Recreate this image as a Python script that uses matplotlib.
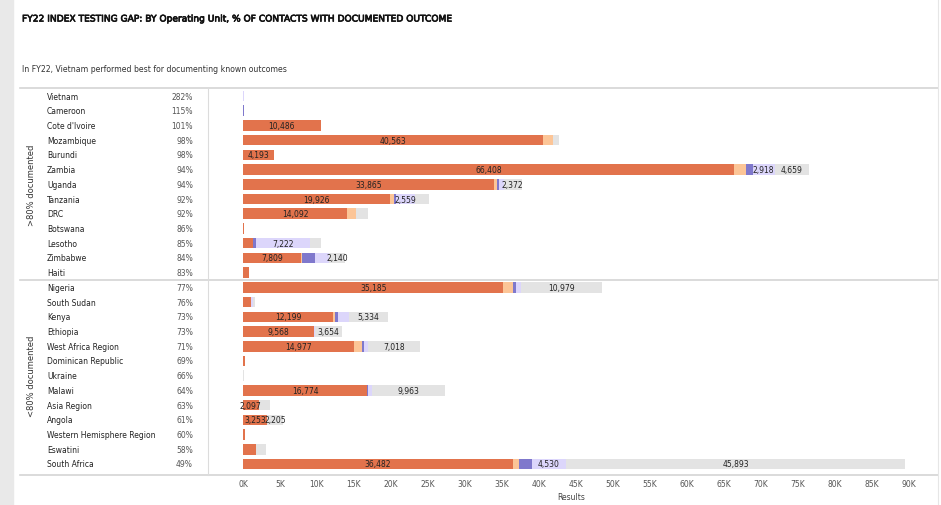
import matplotlib.pyplot as plt
import matplotlib.patheffects as pe
from matplotlib.lines import Line2D
from matplotlib.patches import Rectangle
import numpy as np

plt.rcParams['font.family'] = ['Liberation Sans Narrow', 'DejaVu Sans']

countries = ["Vietnam", "Cameroon", "Cote d'Ivoire", "Mozambique", "Burundi", "Zambia",
             "Uganda", "Tanzania", "DRC", "Botswana", "Lesotho", "Zimbabwe", "Haiti",
             "Nigeria", "South Sudan", "Kenya", "Ethiopia", "West Africa Region",
             "Dominican Republic", "Ukraine", "Malawi", "Asia Region", "Angola",
             "Western Hemisphere Region", "Eswatini", "South Africa"]
pct_labels = ["282%", "115%", "101%", "98%", "98%", "94%", "94%", "92%", "92%", "86%",
              "85%", "84%", "83%", "77%", "76%", "73%", "73%", "71%", "69%", "66%",
              "64%", "63%", "61%", "60%", "58%", "49%"]

# segment values (contacts)
seg_orange = [0, 0, 10486, 40563, 4193, 66408, 33865, 19926, 14092, 150, 1400, 7809, 800,
              35185, 1100, 12199, 9568, 14977, 300, 0, 16774, 2097, 3253, 300, 1800, 36482]
seg_peach = [0, 0, 0, 1350, 0, 1600, 500, 500, 1200, 0, 0, 200, 0,
             1300, 0, 300, 0, 1100, 0, 0, 0, 0, 0, 0, 0, 800]
seg_purple = [0, 150, 0, 0, 0, 900, 200, 300, 0, 0, 400, 1700, 0,
              400, 0, 400, 0, 300, 0, 0, 100, 0, 0, 0, 0, 1800]
seg_lavender = [150, 0, 0, 0, 0, 2918, 700, 2559, 0, 0, 7222, 1900, 0,
                700, 200, 1400, 100, 500, 0, 0, 500, 0, 0, 0, 0, 4530]
seg_gray = [0, 0, 0, 800, 0, 4659, 2372, 1900, 1600, 0, 1500, 2140, 0,
            10979, 300, 5334, 3654, 7018, 0, 150, 9963, 1500, 2205, 0, 1300, 45893]

colors = ['#e2734c', '#fcc597', '#7f78cc', '#dcd6fb', '#e3e3e3']
segments = [seg_orange, seg_peach, seg_purple, seg_lavender, seg_gray]

W, H = 941, 506
fig = plt.figure(figsize=(W / 100, H / 100), dpi=100)
fig.patch.set_facecolor('white')

def fx(px):
    return px / W

def fy(py):
    return 1 - py / H

# gray left margin
fig.add_artist(Rectangle((0, 0), fx(13), 1, transform=fig.transFigure,
                         color='#e9e9e9', zorder=0))

# narrow font has no bold face here, so thicken it with a stroke
title = fig.text(fx(22), fy(20), "FY22 INDEX TESTING GAP: BY Operating Unit, % OF CONTACTS WITH DOCUMENTED OUTCOME",
                 fontsize=9, va='center', ha='left', color='#111111',
                 path_effects=[pe.withStroke(linewidth=0.5, foreground='#111111')])
renderer = fig.canvas.get_renderer()
w = title.get_window_extent(renderer).width
title.set_fontsize(9 * 431 / w)

fig.text(fx(22), fy(69), "In FY22, Vietnam performed best for documenting known outcomes",
         fontsize=5.6, va='center', ha='left', color='#333333')

top_px, bot_px = 89, 476
row0, rowstep = 97, 14.72
ylim_top = -(row0 - top_px) / rowstep
ylim_bot = 25 + (bot_px - (row0 + 25 * rowstep)) / rowstep

# bar axes
px_per_k = 7.4
x0_px, xr_px = 208, 935
xmin = -(243 - x0_px) / px_per_k * 1000
xmax = (xr_px - 243) / px_per_k * 1000
ax = fig.add_axes([fx(x0_px), fy(bot_px), fx(xr_px - x0_px), (bot_px - top_px) / H])
y = np.arange(len(countries))
left = np.zeros(len(countries))
for vals, c in zip(segments, colors):
    vals = np.array(vals, dtype=float)
    ax.barh(y, vals, left=left, height=0.72, color=c, linewidth=0)
    for i, v in enumerate(vals):
        if v >= 2000:
            ax.text(left[i] + v / 2, i, f"{int(v):,}", ha='center', va='center',
                    fontsize=5.5, color='#222222')
    left += vals
ax.set_xlim(xmin, xmax)
ax.set_ylim(ylim_bot, ylim_top)
ax.set_yticks([])
ticks = np.arange(0, 90001, 5000)
ax.set_xticks(ticks)
ax.set_xticklabels([f"{t // 1000}K" for t in ticks], fontsize=5.5, color='#555555')
ax.tick_params(axis='x', length=0, pad=3)
ax.set_xlabel("Results", fontsize=5.5, color='#444444', labelpad=3)
for s in ax.spines.values():
    s.set_visible(False)

# left table axes
tab = fig.add_axes([fx(20), fy(bot_px), fx(x0_px - 20), (bot_px - top_px) / H])
tab.set_xlim(20, x0_px)
tab.set_ylim(ylim_bot, ylim_top)
tab.axis('off')
for i, (name, p) in enumerate(zip(countries, pct_labels)):
    tab.text(47, i, name, fontsize=5.5, va='center', ha='left', color='#222222')
    tab.text(193, i, p, fontsize=5.5, va='center', ha='right', color='#555555')
tab.text(32, 6, ">80% documented", rotation=90, fontsize=6, va='center', ha='center', color='#333333')
tab.text(32, 19, "<80% documented", rotation=90, fontsize=6, va='center', ha='center', color='#333333')

# frame lines
sep_py = row0 + 12.5 * rowstep
for py in (top_px, sep_py, bot_px):
    fig.add_artist(Line2D([fx(20), fx(xr_px + 3)], [fy(py), fy(py)], color='#d4d4d4', lw=1.2))
fig.add_artist(Line2D([fx(x0_px), fx(x0_px)], [fy(top_px), fy(bot_px)], color='#dcdcdc', lw=0.8))
fig.add_artist(Line2D([fx(938), fx(938)], [fy(0), fy(H)], color='#e6e6e6', lw=0.8))

fig.savefig('out.png', dpi=100)
